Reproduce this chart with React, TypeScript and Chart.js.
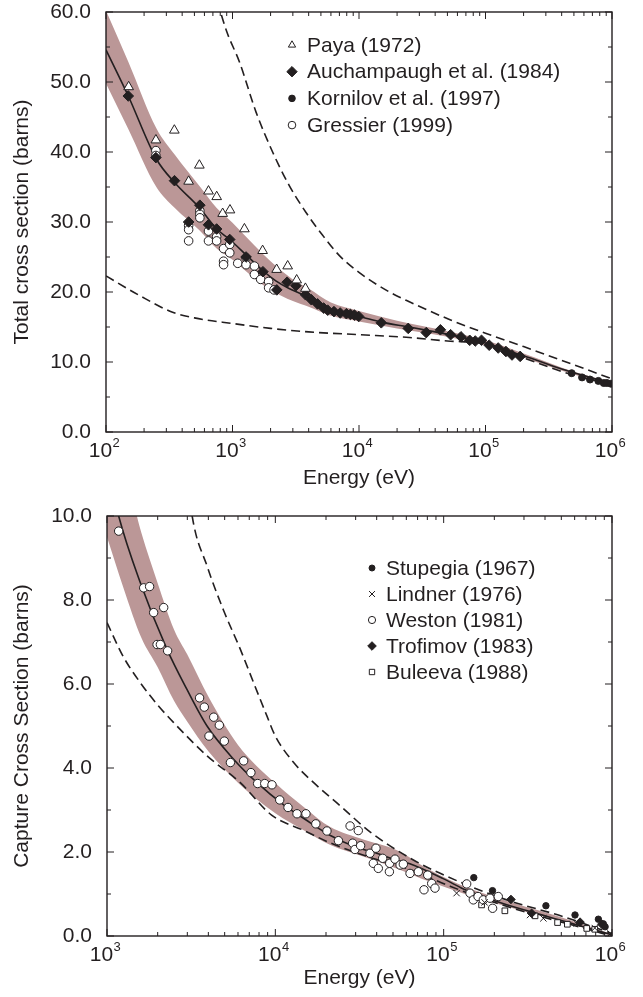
import React, { useEffect, useRef } from 'react';
import { Chart, registerables } from 'chart.js';
import { drawPoint } from 'chart.js/helpers';

Chart.register(...registerables);

const FONT = '"Liberation Sans", Arimo, Arial, Helvetica, sans-serif';
const INK = '#231f20';
const BAND = 'rgb(187,151,151)';

// ---------------- Top panel: total cross section ----------------
const totalDecades = [2, 3, 4, 5, 6];
const totalYTicks = [0, 5, 10, 15, 20, 25, 30, 35, 40, 45, 50, 55, 60];
const totalYLabels = [0, 10, 20, 30, 40, 50, 60];

const totalFitE = [100, 150, 250, 350, 550, 750, 950, 1300, 1750, 2200, 2800, 3800, 5000, 6500, 10000, 15000, 25000, 40000, 70000, 100000, 150000, 200000, 400000, 700000, 1000000];
const totalFitV = [54.6, 48.0, 39.0, 35.6, 32.0, 29.0, 27.5, 25.2, 23.0, 21.6, 20.5, 19.4, 18.0, 17.2, 16.5, 15.7, 15.0, 14.3, 13.4, 12.7, 11.6, 10.9, 9.0, 7.7, 6.9];

const totalBandE = [100, 150, 250, 350, 550, 750, 1000, 1500, 2000, 3000, 4000, 6000, 10000, 20000, 50000, 100000, 200000, 500000, 1000000];
const totalBandHi = [60.2, 52.9, 43.4, 39.6, 35.1, 32.0, 29.9, 26.6, 24.4, 21.8, 20.5, 18.5, 17.3, 15.9, 14.4, 13.1, 11.2, 8.6, 7.1];
const totalBandLo = [49.8, 43.3, 35.0, 32.0, 28.8, 26.2, 24.6, 21.9, 20.3, 18.7, 17.9, 16.6, 15.8, 14.8, 13.6, 12.35, 10.6, 8.2, 6.75];

const totalUpperE = [760, 900, 1133, 1535, 2075, 2810, 3800, 5160, 7000, 10000, 17400, 25000, 53000, 100000, 200000, 500000, 1000000];
const totalUpperV = [61.5, 57.2, 52.9, 45.7, 40.0, 35.2, 31.4, 28.1, 25.2, 22.8, 20.0, 18.6, 16.0, 14.1, 12.2, 9.6, 7.6];
const totalLowerE = [100, 184, 336, 500, 1000, 2000, 4000, 10000, 25000, 50000, 100000, 200000, 500000, 1000000];
const totalLowerV = [22.3, 19.5, 17.1, 16.3, 15.5, 14.8, 14.3, 13.9, 13.5, 13.0, 12.6, 10.6, 8.1, 6.85];

const payaE = [151, 248, 347, 450, 547, 646, 750, 836, 955, 1242, 1730, 2233, 2730, 3215, 3770];
const payaV = [49.3, 41.7, 43.1, 35.8, 38.1, 34.4, 33.6, 31.2, 31.7, 29.0, 25.9, 23.2, 23.7, 21.7, 20.5];

const auchE = [150, 248, 348, 450, 552, 646, 749, 951, 1280, 1740, 2240, 2700, 3170, 3780, 4200, 4700, 5260, 5660, 6340, 7100, 7950, 8550, 9200, 9950, 15000, 24500, 34000, 44000, 53000, 64000, 75000, 83000, 93000, 107000, 126000, 145000, 162000, 188000];
const auchV = [48.0, 39.2, 35.9, 30.0, 32.4, 29.6, 29.0, 27.5, 25.0, 22.9, 20.3, 21.4, 20.9, 19.6, 18.9, 18.3, 17.7, 17.4, 17.2, 17.0, 16.9, 16.8, 16.7, 16.5, 15.6, 14.8, 14.2, 14.6, 13.9, 13.6, 13.1, 13.0, 13.1, 12.4, 12.0, 11.5, 11.0, 10.8];

const kornE = [480000, 580000, 670000, 780000, 860000, 910000, 980000];
const kornV = [8.4, 7.8, 7.5, 7.3, 7.0, 7.0, 6.9];

const gressE = [248, 248, 450, 450, 450, 552, 552, 552, 646, 646, 749, 749, 850, 850, 850, 951, 951, 1100, 1280, 1280, 1490, 1490, 1670, 1930, 1930, 2130];
const gressV = [40.2, 39.5, 29.5, 28.9, 27.3, 31.6, 31.1, 30.6, 28.7, 27.3, 27.9, 27.3, 26.2, 24.4, 23.9, 26.8, 25.6, 24.1, 24.9, 23.9, 23.7, 22.5, 21.8, 21.5, 20.6, 20.3];

// ---------------- Bottom panel: capture cross section ----------------
const captureDecades = [3, 4, 5, 6];
const captureYTicks = [0, 1, 2, 3, 4, 5, 6, 7, 8, 9, 10];
const captureYLabels = [0, 2, 4, 6, 8, 10];

const captureFitE = [1100, 1173, 1578, 2270, 2985, 3929, 5650, 7780, 11220, 15000, 21100, 30000, 40000, 52400, 63000, 100000, 131000, 200000, 326000, 500000, 700000, 1000000];
const captureFitV = [10.5, 10.0, 8.41, 6.83, 5.87, 5.0, 4.21, 3.65, 3.12, 2.78, 2.40, 2.12, 1.97, 1.81, 1.72, 1.36, 1.12, 0.84, 0.58, 0.37, 0.20, 0.03];

const captureBandE = [1000, 1250, 1600, 2000, 2500, 3000, 4000, 6000, 10000, 15000, 21100, 33300, 52400, 83000, 131000, 258000, 514000, 1000000];
const captureBandHi = [11.8, 11.2, 9.6, 8.4, 7.3, 6.7, 5.7, 4.55, 3.64, 3.05, 2.60, 2.30, 2.05, 1.57, 1.19, 0.79, 0.43, 0.04];
const captureBandLo = [9.5, 8.3, 7.1, 6.4, 5.6, 5.1, 4.4, 3.65, 2.92, 2.50, 2.17, 1.89, 1.61, 1.29, 1.01, 0.66, 0.34, 0.0];

const captureUpperE = [3000, 3206, 3929, 4930, 6190, 7430, 8910, 10000, 12850, 16900, 24300, 36500, 66100, 131000, 237000, 514000, 1000000];
const captureUpperV = [11.0, 10.0, 8.81, 7.75, 6.83, 6.03, 5.24, 4.76, 4.13, 3.65, 3.10, 2.48, 1.81, 1.25, 0.86, 0.46, 0.06];
const captureLowerE = [1000, 1250, 1578, 2000, 2490, 3929, 6190, 9500, 15000, 21100, 36000, 63200, 110000, 193000, 339000, 594000, 1000000];
const captureLowerV = [7.46, 6.65, 6.03, 5.50, 5.08, 4.29, 3.65, 2.88, 2.50, 2.22, 1.88, 1.58, 1.18, 0.82, 0.52, 0.25, 0.0];

const stupE = [151000, 195000, 405000, 603000, 830000, 888000, 910000];
const stupV = [1.39, 1.08, 0.72, 0.50, 0.40, 0.29, 0.22];

const lindE = [119400, 175000, 326000, 391000, 617000, 790000, 980000];
const lindV = [1.02, 0.80, 0.50, 0.42, 0.30, 0.19, 0.06];

const westE = [1173, 1652, 1791, 1893, 2172, 1983, 2075, 2292, 3548, 3785, 4305, 4648, 4036, 4977, 5408, 6485, 7160, 7850, 8650, 9550, 10620, 11890, 13450, 15200, 17400, 20260, 23700, 27800, 31100, 28800, 29700, 32100, 36500, 39600, 38200, 40900, 43400, 47600, 47800, 51400, 55100, 57600, 63100, 70700, 80400, 76400, 84900, 88800, 137000, 143400, 150000, 160000, 172000, 188500, 195300, 211000];
const westV = [9.64, 8.29, 8.32, 7.70, 7.82, 6.94, 6.94, 6.79, 5.67, 5.45, 5.21, 5.02, 4.76, 4.64, 4.13, 4.17, 3.89, 3.63, 3.63, 3.60, 3.24, 3.06, 2.91, 2.91, 2.67, 2.50, 2.27, 2.62, 2.51, 2.21, 2.06, 2.15, 1.97, 2.09, 1.73, 1.61, 1.85, 1.53, 1.73, 1.83, 1.69, 1.71, 1.49, 1.53, 1.45, 1.10, 1.25, 1.14, 1.24, 1.02, 0.86, 0.94, 0.86, 0.90, 0.66, 0.94];

const trofE = [251000, 333000, 646000, 870000];
const trofV = [0.87, 0.54, 0.33, 0.28];

const bulE = [168000, 231000, 349000, 475000, 543000, 708000, 790000];
const bulV = [0.74, 0.60, 0.48, 0.32, 0.28, 0.18, 0.16];

// ---------------- helpers ----------------
const pts = (xs: number[], ys: number[]) => xs.map((x, i) => ({ x, y: ys[i] }));

const logTicks = (decades: number[]) => {
  const out: number[] = [];
  decades.forEach((d, i) => {
    if (i === decades.length - 1) { out.push(Math.pow(10, d)); return; }
    for (let m = 1; m <= 9; m++) out.push(m * Math.pow(10, d));
  });
  return out;
};

const isPow10 = (v: number) => Math.abs(Math.log10(v) - Math.round(Math.log10(v))) < 1e-9;

const scatterSet = (label: string, xs: number[], ys: number[], style: string, radius: number, legendRadius: number, filled: boolean) => ({
  label,
  data: pts(xs, ys),
  showLine: false,
  pointStyle: style,
  pointRadius: radius,
  pointBackgroundColor: filled ? INK : '#ffffff',
  pointBorderColor: INK,
  pointBorderWidth: 1,
  inLegend: true,
  legendRadius,
  order: 0,
});

const curveSet = (label: string, xs: number[], ys: number[], dash: number[]) => ({
  label,
  data: pts(xs, ys),
  borderColor: INK,
  borderWidth: 1.6,
  borderDash: dash,
  pointRadius: 0,
  fill: false,
  cubicInterpolationMode: 'monotone',
  clip: 0,
  order: 1,
});

const bandSets = (xs: number[], hi: number[], lo: number[]) => [
  {
    label: 'band-hi', data: pts(xs, hi), borderColor: 'rgba(0,0,0,0)', borderWidth: 0.01,
    pointRadius: 0, fill: '+1', backgroundColor: BAND, cubicInterpolationMode: 'monotone', clip: 0, order: 2,
  },
  {
    label: 'band-lo', data: pts(xs, lo), borderColor: 'rgba(0,0,0,0)', borderWidth: 0.01,
    pointRadius: 0, fill: false, cubicInterpolationMode: 'monotone', clip: 0, order: 2,
  },
];

const framePlugin = {
  id: 'frameTicks',
  afterDatasetsDraw(chart: any) {
    const { ctx, chartArea } = chart;
    const { left, right, top, bottom } = chartArea;
    const xs = chart.scales.x;
    const ys = chart.scales.y;
    ctx.save();
    ctx.strokeStyle = INK;
    ctx.lineWidth = 1;
    const seg = (x1: number, y1: number, x2: number, y2: number) => {
      ctx.beginPath(); ctx.moveTo(x1, y1); ctx.lineTo(x2, y2); ctx.stroke();
    };
    xs.ticks.forEach((t: any) => {
      const px = xs.getPixelForValue(t.value);
      const len = isPow10(t.value) ? 7 : 4;
      seg(px, bottom, px, bottom - len);
      seg(px, top, px, top + len);
    });
    ys.ticks.forEach((t: any) => {
      const py = ys.getPixelForValue(t.value);
      const len = t.label !== '' ? 7 : 4;
      seg(left, py, left + len, py);
      seg(right, py, right - len, py);
    });
    ctx.lineWidth = 1.4;
    ctx.strokeRect(left, top, right - left, bottom - top);
    // x tick labels: 10^n
    ctx.fillStyle = INK;
    ctx.textBaseline = 'alphabetic';
    ctx.textAlign = 'left';
    xs.ticks.forEach((t: any) => {
      if (!isPow10(t.value)) return;
      const px = xs.getPixelForValue(t.value);
      const exp = String(Math.round(Math.log10(t.value)));
      ctx.font = `21px ${FONT}`;
      const w1 = ctx.measureText('10').width;
      ctx.font = `13px ${FONT}`;
      const w2 = ctx.measureText(exp).width;
      const x0 = px - (w1 + w2) / 2 - 2;
      const base = bottom + 25;
      ctx.font = `21px ${FONT}`;
      ctx.fillText('10', x0, base);
      ctx.font = `13px ${FONT}`;
      ctx.fillText(exp, x0 + w1 + 0.5, base - 10);
    });
    ctx.restore();
  },
};

const legendPlugin = {
  id: 'customLegend',
  afterDraw(chart: any, _args: any, opts: any) {
    const { ctx } = chart;
    const items = chart.data.datasets.filter((d: any) => d.inLegend);
    items.forEach((d: any, i: number) => {
      const y = opts.y + i * opts.rowH;
      ctx.save();
      ctx.fillStyle = d.pointBackgroundColor;
      ctx.strokeStyle = d.pointBorderColor;
      ctx.lineWidth = 1;
      drawPoint(ctx, { pointStyle: d.pointStyle, rotation: 0, radius: d.legendRadius, borderWidth: 1 } as any, opts.x, y);
      ctx.fillStyle = INK;
      ctx.font = `21px ${FONT}`;
      ctx.textBaseline = 'middle';
      ctx.textAlign = 'left';
      ctx.fillText(d.label, opts.x + opts.gap, y + 1);
      ctx.restore();
    });
  },
};

type PanelSpec = {
  width: number;
  height: number;
  padTop: number;
  axisWidth: number;
  axisHeight: number;
  xMin: number;
  xMax: number;
  decades: number[];
  yMax: number;
  yTicks: number[];
  yLabels: number[];
  yTitle: string;
  xTitlePad: number;
  datasets: any[];
  legend: { x: number; y: number; rowH: number; gap: number };
};

function Panel({ spec }: { spec: PanelSpec }) {
  const ref = useRef<HTMLCanvasElement | null>(null);
  useEffect(() => {
    if (!ref.current) return;
    const xTickValues = logTicks(spec.decades);
    const chart = new Chart(ref.current, {
      type: 'line',
      data: { datasets: spec.datasets },
      plugins: [framePlugin, legendPlugin],
      options: {
        responsive: false,
        animation: false,
        events: [],
        layout: { padding: { top: spec.padTop, right: 31, left: 0, bottom: 0 } },
        plugins: {
          legend: { display: false },
          tooltip: { enabled: false },
          customLegend: spec.legend,
        } as any,
        scales: {
          x: {
            type: 'logarithmic',
            min: spec.xMin,
            max: spec.xMax,
            afterBuildTicks: (s: any) => { s.ticks = xTickValues.map((v) => ({ value: v })); },
            ticks: { display: false },
            grid: { display: false, drawTicks: false },
            border: { display: false },
            title: {
              display: true, text: 'Energy (eV)', color: INK,
              font: { family: FONT, size: 21 }, padding: { top: 0, bottom: spec.xTitlePad },
            },
            afterFit: (s: any) => { s.height = spec.axisHeight; s.paddingLeft = 0; s.paddingRight = 0; },
          },
          y: {
            type: 'linear',
            min: 0,
            max: spec.yMax,
            afterBuildTicks: (s: any) => { s.ticks = spec.yTicks.map((v) => ({ value: v })); },
            ticks: {
              autoSkip: false, padding: 15, color: INK,
              font: { family: FONT, size: 21 },
              callback: (v: any) => (spec.yLabels.includes(Number(v)) ? Number(v).toFixed(1) : ''),
            },
            grid: { display: false, drawTicks: false },
            border: { display: false },
            title: {
              display: true, text: spec.yTitle, color: INK,
              font: { family: FONT, size: 21 }, padding: { top: 10, bottom: 0 },
            },
            afterFit: (s: any) => { s.width = spec.axisWidth; s.paddingTop = 0; s.paddingBottom = 0; },
          },
        } as any,
      },
    });
    return () => chart.destroy();
  }, [spec]);
  return (
    <canvas ref={ref} width={spec.width} height={spec.height} style={{ display: 'block', width: spec.width, height: spec.height }} />
  );
}

const topSpec: PanelSpec = {
  width: 643, height: 494, padTop: 12, axisWidth: 106, axisHeight: 62,
  xMin: 100, xMax: 1000000, decades: totalDecades,
  yMax: 60, yTicks: totalYTicks, yLabels: totalYLabels,
  yTitle: 'Total cross section (barns)', xTitlePad: 3,
  datasets: [
    scatterSet('Paya (1972)', payaE, payaV, 'triangle', 5.6, 4.2, false),
    scatterSet('Auchampaugh et al. (1984)', auchE, auchV, 'rectRot', 5.3, 5.2, true),
    scatterSet('Kornilov et al. (1997)', kornE, kornV, 'circle', 3.5, 3.3, true),
    scatterSet('Gressier (1999)', gressE, gressV, 'circle', 4.3, 3.8, false),
    curveSet('fit', totalFitE, totalFitV, []),
    curveSet('upper', totalUpperE, totalUpperV, [9, 5]),
    curveSet('lower', totalLowerE, totalLowerV, [9, 5]),
    ...bandSets(totalBandE, totalBandHi, totalBandLo),
  ],
  legend: { x: 292, y: 45, rowH: 26.7, gap: 15 },
};

const bottomSpec: PanelSpec = {
  width: 643, height: 503, padTop: 22, axisWidth: 107, axisHeight: 61,
  xMin: 1000, xMax: 1000000, decades: captureDecades,
  yMax: 10, yTicks: captureYTicks, yLabels: captureYLabels,
  yTitle: 'Capture Cross Section (barns)', xTitlePad: 6,
  datasets: [
    scatterSet('Stupegia (1967)', stupE, stupV, 'circle', 3.2, 3.0, true),
    scatterSet('Lindner (1976)', lindE, lindV, 'crossRot', 4.5, 4.2, false),
    scatterSet('Weston (1981)', westE, westV, 'circle', 4.2, 3.6, false),
    scatterSet('Trofimov (1983)', trofE, trofV, 'rectRot', 4.3, 4.3, true),
    scatterSet('Buleeva (1988)', bulE, bulV, 'rect', 4.0, 3.8, false),
    curveSet('fit', captureFitE, captureFitV, []),
    curveSet('upper', captureUpperE, captureUpperV, [9, 5]),
    curveSet('lower', captureLowerE, captureLowerV, [9, 5]),
    ...bandSets(captureBandE, captureBandHi, captureBandLo),
  ],
  legend: { x: 372, y: 74, rowH: 26, gap: 14 },
};

export default function App() {
  return (
    <div style={{ position: 'absolute', left: 0, top: 0, width: 643, height: 997, background: '#ffffff' }}>
      <Panel spec={topSpec} />
      <Panel spec={bottomSpec} />
    </div>
  );
}
